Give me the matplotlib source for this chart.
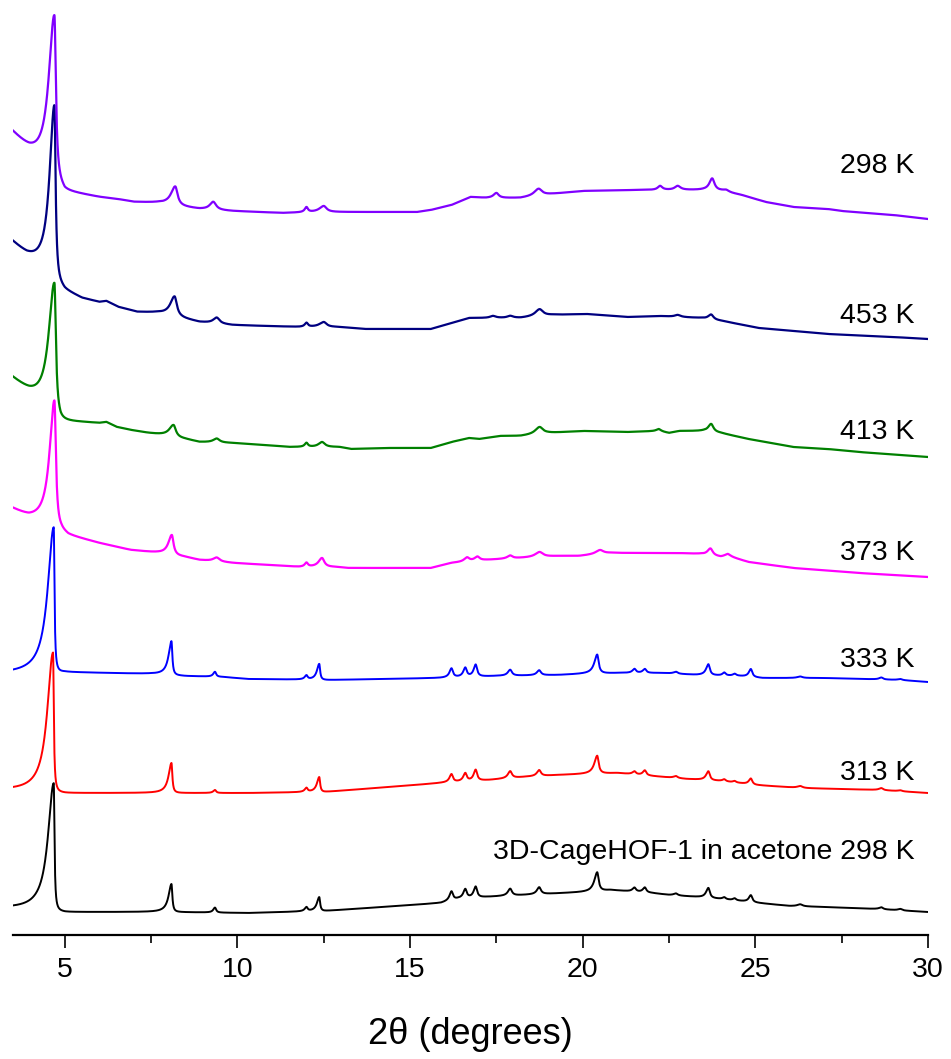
import numpy as np
import matplotlib
matplotlib.use("Agg")
import matplotlib.pyplot as plt
from matplotlib.ticker import MultipleLocator

plt.rcParams["font.family"] = ["Liberation Sans", "DejaVu Sans"]

# 2-theta scan grid (degrees)
two_theta = np.arange(3.5, 30.0001, 0.005)

# Stack order (bottom to top), labels, colours and vertical offsets
labels = ["3D-CageHOF-1 in acetone 298 K", "313 K", "333 K", "373 K",
          "413 K", "453 K", "298 K"]
colors = ["#000000", "#FF0000", "#0000FF", "#FF00FF",
          "#008000", "#000080", "#8000FF"]
offsets = [23, 142, 255, 367, 487, 606, 723]
label_y = [83, 162, 275, 382, 503, 619, 769]

# Background knots (2theta, intensity) for each pattern
bg_acetone = [(3.5, 3), (4.2, 2), (5.0, 0), (8.0, 0), (10.3, -1), (12.5, 1),
              (15.9, 9), (16.4, 13), (17.2, 15), (18.3, 17), (19.5, 19),
              (20.2, 20), (20.8, 22), (21.2, 21), (22.0, 19), (22.5, 17),
              (23.3, 15), (24.0, 13), (25.1, 9), (26.0, 6), (27.0, 5),
              (28.5, 3), (30.0, 0)]
bg_313 = [(3.5, 2), (5.0, 0), (8.0, 0), (10.3, 0), (12.5, 1), (15.9, 10),
          (17.3, 13), (18.3, 16), (19.3, 18), (20.2, 19), (21.0, 20),
          (22.0, 17), (23.0, 14), (24.0, 12), (25.0, 8), (26.3, 5),
          (28.6, 3), (30.0, 0)]
bg_333 = [(3.5, 6), (4.5, 6), (5.0, 8), (7.5, 6), (8.5, 4), (9.6, 3),
          (10.3, 1), (12.6, 0), (15.9, 2), (17.5, 4), (19.3, 5), (20.0, 6),
          (21.0, 7), (22.3, 7), (23.3, 5), (24.5, 4), (25.2, 2), (27.0, 2),
          (29.2, 0), (30.0, -2)]
bg_373 = [(3.5, 58), (3.96, 49), (4.9, 37), (5.1, 33), (6.0, 25), (6.9, 18),
          (7.7, 15), (8.5, 11), (8.9, 8), (9.9, 5), (10.9, 3), (11.8, 1),
          (12.85, 1), (13.2, 0), (15.6, 0), (16.2, 5), (17.2, 8), (18.2, 10),
          (19.3, 12), (19.9, 12), (20.8, 15), (22.7, 15), (23.4, 14),
          (24.0, 11), (24.2, 12), (24.8, 6), (26.1, 0), (28.0, -5),
          (30.0, -9)]
bg_413 = [(3.5, 68), (3.97, 53), (4.88, 27), (5.5, 26), (6.0, 25), (6.2, 26),
          (6.5, 21), (6.9, 18), (7.4, 15), (7.8, 13), (8.5, 9), (8.9, 6),
          (9.85, 5), (10.8, 3), (11.5, 1), (12.95, 1), (13.3, -1),
          (14.2, 0), (15.6, 0), (16.2, 6), (16.7, 10), (17.0, 9), (17.6, 12),
          (18.2, 12), (19.0, 15), (20.0, 17), (21.3, 16), (22.2, 17),
          (22.5, 15), (22.8, 17), (23.5, 17), (24.0, 15), (24.8, 9),
          (26.1, 1), (27.1, -1), (28.0, -4), (30.0, -9)]
bg_453 = [(3.5, 85), (3.9, 71), (5.0, 39), (5.5, 31), (6.0, 27), (6.2, 28),
          (6.55, 22), (7.1, 17), (7.7, 16), (8.4, 11), (8.9, 7), (9.85, 4),
          (10.8, 3), (11.8, 2), (12.95, 2), (13.7, 0), (15.6, 0), (16.2, 6),
          (16.7, 11), (18.2, 11), (19.1, 14), (20.1, 15), (21.3, 12),
          (22.2, 13), (23.4, 11), (24.05, 8), (25.1, 1), (27.1, -5),
          (29.0, -8), (30.0, -10)]
bg_298 = [(3.5, 77), (3.97, 58), (5.0, 21), (5.5, 18), (6.0, 15), (6.5, 13),
          (7.0, 10), (7.7, 9), (8.9, 3), (9.85, 1), (11.3, -1), (12.5, 0),
          (15.2, 0), (15.6, 2), (16.2, 7), (16.75, 15), (17.2, 14),
          (18.2, 14), (19.1, 18), (20.0, 21), (21.6, 22), (23.5, 22),
          (24.0, 21), (24.6, 17), (25.3, 10), (26.1, 5), (27.1, 3),
          (27.5, 1), (29.0, -3), (30.0, -7)]

# Reflections: (position, height, left half-width, right half-width)
pk_acetone = [(4.68, 128, 0.20, 0.025), (8.09, 28, 0.10, 0.03),
              (9.35, 5, 0.06, 0.04), (12.0, 4, 0.06, 0.04),
              (12.37, 14, 0.08, 0.03), (16.2, 9, 0.07, 0.05),
              (16.6, 9, 0.07, 0.05), (16.9, 11, 0.07, 0.05),
              (17.9, 7, 0.08, 0.06), (18.74, 7, 0.08, 0.06),
              (20.42, 19, 0.10, 0.05), (21.5, 4, 0.07, 0.05),
              (21.8, 5, 0.07, 0.05), (22.7, 2, 0.08, 0.06),
              (23.64, 10, 0.08, 0.05), (24.1, 2, 0.06, 0.05),
              (24.4, 2, 0.06, 0.05), (24.87, 7, 0.07, 0.05),
              (26.3, 2, 0.10, 0.08), (28.65, 2, 0.08, 0.06),
              (29.2, 1.5, 0.08, 0.06)]
pk_313 = [(4.66, 140, 0.20, 0.025), (8.09, 30, 0.10, 0.03),
          (9.35, 3, 0.06, 0.04), (12.0, 4, 0.06, 0.04),
          (12.37, 15, 0.08, 0.03), (16.2, 8, 0.07, 0.05),
          (16.6, 8, 0.07, 0.05), (16.9, 11, 0.07, 0.05),
          (17.9, 7, 0.08, 0.06), (18.74, 6, 0.08, 0.06),
          (20.42, 18, 0.10, 0.05), (21.5, 3, 0.07, 0.05),
          (21.8, 5, 0.07, 0.05), (22.7, 2, 0.08, 0.06),
          (23.64, 9, 0.08, 0.05), (24.1, 2, 0.06, 0.05),
          (24.4, 1.5, 0.06, 0.05), (24.87, 6, 0.07, 0.05),
          (26.3, 2, 0.10, 0.08), (28.65, 2, 0.08, 0.06),
          (29.2, 1, 0.08, 0.06)]
pk_333 = [(4.68, 146, 0.21, 0.025), (8.09, 34, 0.10, 0.03),
          (9.35, 5, 0.06, 0.04), (12.0, 4, 0.06, 0.04),
          (12.37, 16, 0.08, 0.03), (16.2, 9, 0.07, 0.05),
          (16.6, 9, 0.07, 0.05), (16.9, 12, 0.07, 0.05),
          (17.9, 6, 0.08, 0.06), (18.74, 5, 0.08, 0.06),
          (20.42, 19, 0.10, 0.05), (21.5, 4, 0.07, 0.05),
          (21.8, 4, 0.07, 0.05), (22.7, 2, 0.08, 0.06),
          (23.64, 11, 0.08, 0.05), (24.1, 3, 0.06, 0.05),
          (24.4, 2, 0.06, 0.05), (24.87, 8, 0.07, 0.05),
          (26.3, 1.5, 0.10, 0.08), (28.65, 2, 0.08, 0.06),
          (29.2, 1, 0.08, 0.06)]
pk_373 = [(4.70, 128, 0.17, 0.05), (8.10, 20, 0.12, 0.06),
          (9.40, 4, 0.12, 0.10), (12.0, 4, 0.06, 0.05),
          (12.45, 9, 0.12, 0.08), (16.65, 4, 0.10, 0.08),
          (16.95, 4, 0.10, 0.08), (17.9, 3, 0.10, 0.08),
          (18.75, 5, 0.15, 0.12), (20.5, 4, 0.15, 0.12),
          (23.7, 7, 0.10, 0.08), (24.2, 2, 0.10, 0.10)]
pk_413 = [(4.70, 133, 0.20, 0.05), (8.15, 12, 0.15, 0.08),
          (9.40, 4, 0.12, 0.10), (12.0, 4, 0.06, 0.05),
          (12.45, 5, 0.12, 0.10), (18.75, 7, 0.15, 0.12),
          (22.2, 2, 0.08, 0.08), (23.72, 8, 0.10, 0.08)]
pk_453 = [(4.70, 176, 0.17, 0.04), (8.18, 20, 0.15, 0.08),
          (9.40, 6, 0.12, 0.10), (12.0, 4, 0.06, 0.05),
          (12.5, 5, 0.15, 0.10), (17.4, 2, 0.10, 0.10),
          (17.9, 2, 0.10, 0.10), (18.75, 7, 0.15, 0.12),
          (22.75, 2, 0.10, 0.10), (23.72, 5, 0.10, 0.08)]
pk_298 = [(4.70, 165, 0.20, 0.05), (8.20, 19, 0.15, 0.08),
          (9.30, 8, 0.12, 0.10), (12.0, 5, 0.06, 0.05),
          (12.5, 6, 0.15, 0.10), (17.5, 5, 0.10, 0.08),
          (18.72, 7, 0.15, 0.12), (22.24, 4, 0.08, 0.08),
          (22.75, 4, 0.10, 0.10), (23.75, 12, 0.10, 0.08),
          (24.15, 2, 0.10, 0.10)]

backgrounds = [bg_acetone, bg_313, bg_333, bg_373, bg_413, bg_453, bg_298]
reflections = [pk_acetone, pk_313, pk_333, pk_373, pk_413, pk_453, pk_298]
line_widths = [1.4, 1.4, 1.4, 1.6, 1.6, 1.6, 1.6]


def profile(x, background, peaks):
    """Background plus asymmetric (split) Lorentzian reflections."""
    bx, by = zip(*background)
    y = np.interp(x, bx, by)
    for pos, height, wl, wr in peaks:
        w = np.where(x < pos, wl, wr)
        y = y + height / (1.0 + ((x - pos) / w) ** 2)
    return y


fig = plt.figure(figsize=(9.51, 10.59), dpi=100)
ax = fig.add_axes([13 / 951, 124 / 1059, 915 / 951, 935 / 1059])

for bg, pk, off, col, lw in zip(backgrounds, reflections, offsets, colors,
                                line_widths):
    ax.plot(two_theta, profile(two_theta, bg, pk) + off, color=col, lw=lw,
            solid_joinstyle="round")

for text, yl in zip(labels, label_y):
    ax.text(29.6, yl, text, ha="right", va="center", fontsize=20.5,
            color="#000000")

ax.set_xlim(3.5, 30)
ax.set_ylim(0, 935)
for side in ("left", "right", "top"):
    ax.spines[side].set_visible(False)
ax.spines["bottom"].set_linewidth(1.6)
ax.set_yticks([])
ax.xaxis.set_major_locator(MultipleLocator(5))
ax.xaxis.set_minor_locator(MultipleLocator(2.5))
ax.tick_params(axis="x", which="major", direction="out", length=9,
               width=1.2, labelsize=20.5, pad=7)
ax.tick_params(axis="x", which="minor", direction="out", length=5.5,
               width=1.2)
ax.set_xlabel("2\u03b8 (degrees)", fontsize=26, labelpad=24)

fig.savefig("out.png", dpi=100)
